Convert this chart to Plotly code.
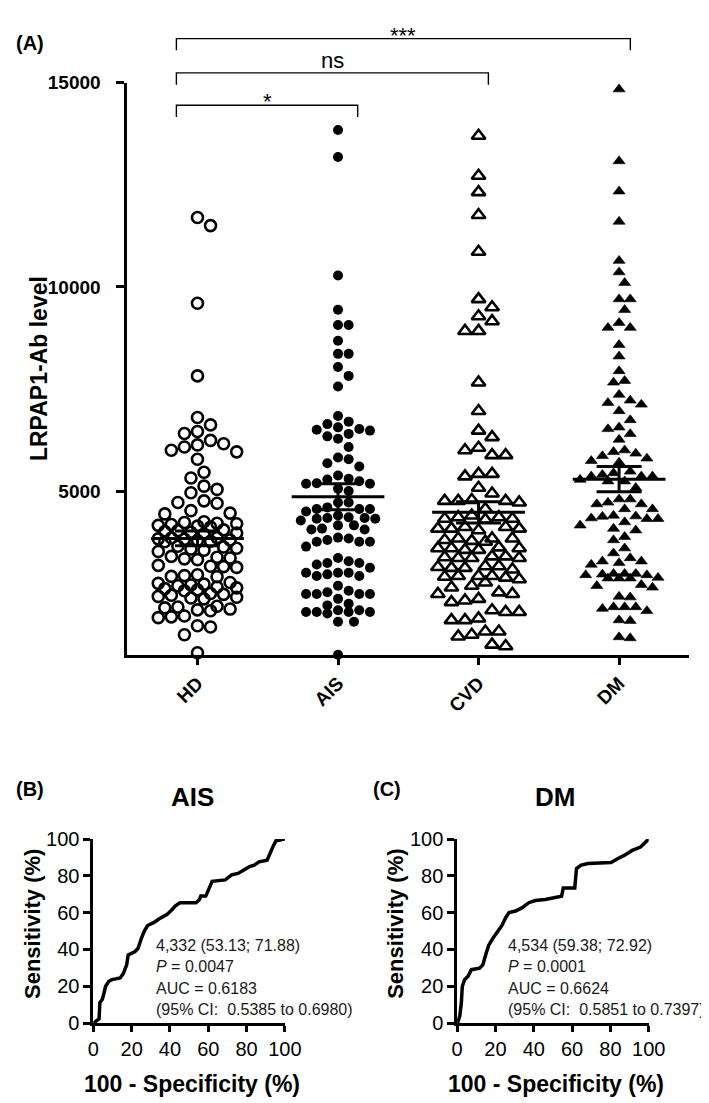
import numpy as np
import plotly.graph_objects as go

W, H = 709, 1103

# ---------------- data ----------------
categories = ["HD", "AIS", "CVD", "DM"]

hd_values = [11700, 11500, 9600, 7820, 6800, 6620, 6460, 6410, 6240, 6160, 6130, 6080, 6000, 5960,
             5780, 5460, 5320, 5120, 5040, 4960, 4760, 4720, 4700, 4520, 4460, 4440,
             4250, 4230, 4210, 4200, 4180, 4160, 4140, 4120,
             4050, 4030, 4010, 3990, 3970, 3950,
             3860, 3850, 3830, 3820, 3800, 3790, 3770, 3760,
             3650, 3630, 3600, 3580, 3550, 3520,
             3400, 3380, 3360, 3340, 3320,
             3180, 3160, 3150, 3130,
             2950, 2930, 2910, 2900,
             2760, 2740, 2720, 2700, 2680, 2650, 2630, 2610, 2580, 2560,
             2490, 2470, 2450, 2420, 2400, 2380, 2360,
             2180, 2160, 2140, 2110, 2090, 2070,
             1940, 1920, 1900, 1700, 1670, 1480, 1040]

ais_values = [13840, 13180, 10280, 9440, 9065, 9065, 8680, 8360, 8360,
              8040, 7820, 7560, 6840,
              6700, 6640, 6560, 6520, 6500, 6480, 6400,
              6340, 6280, 6080,
              5820, 5780, 5680, 5600,
              5380, 5300, 5280, 5240, 5190, 5180, 5180,
              5060, 5000,
              4720, 4720, 4600, 4560, 4560, 4560, 4500,
              4400, 4360, 4340, 4340, 4320, 4320, 4280,
              4160, 4160, 4080, 4060, 4060,
              3860, 3840, 3800, 3760, 3760, 3760,
              3640,
              3360, 3280, 3240, 3240, 3200, 3120, 3000, 3000, 3000,
              2960, 2920, 2920,
              2680, 2560, 2520, 2480, 2480, 2480, 2480,
              2360, 2240,
              2200, 2080, 2080, 2040, 2040, 2040, 2040, 2000,
              1800, 1800,
              990]

cvd_values = [13700, 12720, 12320, 11760, 10860, 9700, 9500, 9280, 9160, 8920, 8920,
              7660, 6960, 6480, 6320,
              6060, 6000, 5880, 5880,
              5420, 5420, 5360,
              5080, 4940,
              4780, 4760, 4760, 4760, 4720, 4560,
              4400, 4360, 4360, 4320, 4320, 4300,
              4120, 4120, 4080, 4080, 4080, 4040,
              3840, 3840, 3840, 3800, 3780, 3760,
              3620, 3600, 3600, 3600, 3560, 3560,
              3400, 3400, 3380, 3360, 3360, 3360,
              3160, 3160, 3140, 3120, 3120, 3080,
              2920, 2920, 2920, 2900, 2880, 2840,
              2760, 2680, 2640,
              2520, 2480, 2480, 2360, 2320, 2280,
              2080, 2040, 2040, 1880, 1840, 1840,
              1560, 1560, 1480, 1440,
              1240, 1200]

dm_values = [14840, 13080, 12340, 11600, 10640, 10360, 10100, 9700, 9700, 9440, 9120, 9000, 9000, 8580, 8300,
             7940, 7700, 7660, 7360, 7220, 7160, 7120, 6960, 6740, 6560, 6520, 6400, 6260,
             6000, 5960, 5920, 5860, 5800, 5740, 5700,
             5480, 5440, 5400, 5360, 5360, 5360, 5280, 5240, 5240,
             5080,
             4800, 4800, 4720, 4680, 4680, 4560, 4560,
             4400, 4384, 4376, 4336, 4320, 4320, 4240, 4160, 4080, 4040,
             3880, 3800, 3600,
             3480, 3360,
             3280, 3280, 3240, 3200,
             2976, 2976, 2976, 2960, 2944, 2944,
             2880, 2864, 2864, 2864,
             2704, 2680, 2640,
             2416, 2400,
             2160, 2160, 2160, 2120, 2064,
             1840, 1824,
             1424, 1400]

group_means = [3840, 4860, 4480, 5290]
group_sems = [180, 320, 260, 310]

y_tick_vals = [5000, 10000, 15000]

comparisons = [("HD", "AIS", "*"), ("HD", "CVD", "ns"), ("HD", "DM", "***")]

roc_ais_fpr = [0, 1.3, 3.0, 3.4, 4.7, 5.6, 6.4, 8.1, 9.8, 14.0, 15.7, 17.4, 18.2, 21.6, 23.3, 25.0, 26.6,
               28.3, 31.7, 34.2, 38.4, 41.0, 42.7, 45.2, 53.6, 55.3, 56.1, 58.7, 61.2, 62.0, 68.8, 72.2,
               75.5, 78.0, 81.5, 84.0, 86.5, 90.7, 92.4, 94.0, 95.4, 99.0, 100]
roc_ais_tpr = [0, 0.9, 2.3, 11.0, 13.0, 16.5, 20.0, 22.7, 23.6, 24.5, 27.0, 31.6, 37.0, 38.7, 40.5, 45.8, 50.0,
               53.0, 54.7, 56.5, 59.0, 61.5, 63.6, 65.4, 65.4, 67.0, 69.0, 69.0, 75.0, 77.0, 77.8, 80.5,
               81.3, 83.0, 85.0, 85.8, 87.6, 88.5, 92.9, 96.4, 99.1, 100, 100]

roc_dm_fpr = [0, 0.5, 1.4, 2.2, 2.7, 3.9, 5.7, 7.4, 11.7, 13.4, 15.1, 16.5, 18.5, 21.1, 23.3, 25.4, 27.1,
              30.5, 34.0, 37.4, 40.8, 46.0, 51.1, 54.5, 55.4, 61.4, 62.3, 64.8, 68.3, 80.3, 83.7, 87.2,
              91.4, 95.7, 99.1, 100]
roc_dm_tpr = [0, 0.9, 4.0, 11.0, 20.0, 23.6, 25.4, 29.0, 29.8, 31.6, 37.8, 42.3, 45.8, 49.4, 52.9, 57.4, 60.0,
              60.9, 62.7, 65.4, 66.6, 67.1, 68.0, 68.9, 73.4, 73.4, 84.0, 85.8, 86.7, 87.2, 89.3, 91.1,
              93.8, 95.6, 99.1, 100]

roc_ticks = [0, 20, 40, 60, 80, 100]

ais_stats = ["4,332 (53.13; 71.88)", "<i>P</i> = 0.0047", "AUC = 0.6183", "(95% CI:  0.5385 to 0.6980)"]
dm_stats = ["4,534 (59.38; 72.92)", "<i>P</i> = 0.0001", "AUC = 0.6624", "(95% CI:  0.5851 to 0.7397)"]

# ---------------- layout geometry (pixels) ----------------
FONT = "Arial, Liberation Sans, Helvetica, sans-serif"


def px(x):
    return x / W


def py(y):
    return 1 - y / H


A_left, A_right = 117, 698
A_top, A_bottom = 65, 649
A_ymin, A_ymax = 984, 15000
x_range = [-0.5, len(categories) - 0.5]
px_per_cat = (A_right - A_left) / (x_range[1] - x_range[0])
px_per_unit = (A_bottom - A_top) / (A_ymax - A_ymin)


def swarm(values, d, max_off):
    vals = np.asarray(values, dtype=float)
    ys = vals * px_per_unit
    step = d / 2.0
    cands = [0.0]
    k = 1
    while k * step <= max_off + 1e-9:
        cands += [k * step, -k * step]
        k += 1
    placed_x, placed_y = [], []
    offs = np.zeros(len(vals))
    for i in np.argsort(-vals, kind="stable"):
        y = ys[i]
        chosen, best_c, best_md = None, 0.0, -1.0
        for c in cands:
            if placed_x:
                md = np.min(np.hypot(np.array(placed_x) - c, np.array(placed_y) - y))
            else:
                md = 1e9
            if md >= d:
                chosen = c
                break
            if md > best_md:
                best_md, best_c = md, c
        if chosen is None:
            chosen = best_c
        offs[i] = chosen
        placed_x.append(chosen)
        placed_y.append(y)
    return offs / px_per_cat


groups = [hd_values, ais_values, cvd_values, dm_values]
marker_styles = [
    dict(symbol="circle-open", size=11, color="black", line=dict(width=2.6, color="black")),
    dict(symbol="circle", size=10, color="black", line=dict(width=0)),
    dict(symbol="triangle-up-open", size=12, color="black", line=dict(width=2.6, color="black")),
    dict(symbol="triangle-up", size=10.5, color="black", line=dict(width=0.6, color="black")),
]
swarm_d = [13.5, 11, 14, 11.5]

fig = go.Figure()

for gi, (vals, ms) in enumerate(zip(groups, marker_styles)):
    offs = swarm(vals, swarm_d[gi], 42)
    fig.add_trace(go.Scatter(
        x=gi + offs, y=vals, mode="markers", marker=ms, cliponaxis=False,
        xaxis="x", yaxis="y", hoverinfo="skip", showlegend=False))

# mean +/- SEM lines
for gi, (m, s) in enumerate(zip(group_means, group_sems)):
    xs = [gi - 0.33, gi + 0.33, None, gi - 0.16, gi + 0.16, None, gi - 0.16, gi + 0.16, None, gi, gi]
    ys = [m, m, None, m + s, m + s, None, m - s, m - s, None, m - s, m + s]
    fig.add_trace(go.Scatter(x=xs, y=ys, mode="lines", line=dict(color="black", width=3),
                             xaxis="x", yaxis="y", hoverinfo="skip", showlegend=False,
                             cliponaxis=False))

# ROC curves
fig.add_trace(go.Scatter(x=roc_ais_fpr, y=roc_ais_tpr, mode="lines",
                         line=dict(color="black", width=3.5), xaxis="x2", yaxis="y2",
                         cliponaxis=False, showlegend=False, hoverinfo="skip"))
fig.add_trace(go.Scatter(x=roc_dm_fpr, y=roc_dm_tpr, mode="lines",
                         line=dict(color="black", width=3.5), xaxis="x3", yaxis="y3",
                         cliponaxis=False, showlegend=False, hoverinfo="skip"))

axis_common = dict(showgrid=False, zeroline=False, showline=True, linecolor="black",
                   ticks="outside", tickcolor="black", mirror=False)

B_left, B_right = 82, 280
C_left, C_right = 458, 656
R_top, R_bottom = 836.7, 1024.5

fig.update_layout(
    width=W, height=H, margin=dict(l=0, r=0, t=0, b=0),
    paper_bgcolor="white", plot_bgcolor="white", showlegend=False,
    font=dict(family=FONT, color="black"),
    xaxis=dict(domain=[px(A_left), px(A_right)], range=x_range, anchor="y",
               tickmode="array", tickvals=list(range(len(categories))), ticktext=categories,
               tickangle=-45, ticklen=7, tickwidth=2.5, linewidth=2.5,
               tickfont=dict(size=19, family=FONT, weight="bold"), **axis_common),
    yaxis=dict(domain=[py(A_bottom), py(A_top)], range=[A_ymin, A_ymax], anchor="x",
               tickmode="array", tickvals=y_tick_vals, ticktext=[str(v) for v in y_tick_vals],
               ticklen=8, tickwidth=2.5, linewidth=2.5, ticklabelstandoff=12,
               tickfont=dict(size=19, family=FONT, weight="bold"), **axis_common),
    xaxis2=dict(domain=[px(B_left), px(B_right)], range=[0, 100], anchor="y2",
                tickmode="array", tickvals=roc_ticks, ticklen=6, tickwidth=2.5, linewidth=2.7,
                tickfont=dict(size=20, family=FONT), **axis_common),
    yaxis2=dict(domain=[py(R_bottom), py(R_top)], range=[0, 100], anchor="x2",
                tickmode="array", tickvals=roc_ticks, ticklen=7, tickwidth=2.5, linewidth=2.7,
                tickfont=dict(size=20, family=FONT), **axis_common),
    xaxis3=dict(domain=[px(C_left), px(C_right)], range=[0, 100], anchor="y3",
                tickmode="array", tickvals=roc_ticks, ticklen=6, tickwidth=2.5, linewidth=2.7,
                tickfont=dict(size=20, family=FONT), **axis_common),
    yaxis3=dict(domain=[py(R_bottom), py(R_top)], range=[0, 100], anchor="x3",
                tickmode="array", tickvals=roc_ticks, ticklen=7, tickwidth=2.5, linewidth=2.7,
                tickfont=dict(size=20, family=FONT), **axis_common),
)

# significance brackets (paper coords derived from category positions)
def cat_to_paper(c):
    return px(A_left + (c - x_range[0]) * px_per_cat)

bracket_geom = {"*": (-0.15, 1.14, 88), "ns": (-0.15, 2.07, 55), "***": (-0.15, 3.08, 20)}
label_center = {"*": 84, "ns": 42, "***": 17}
for a, b, lab in comparisons:
    l, r, top = bracket_geom[lab]
    x0, x1 = cat_to_paper(l), cat_to_paper(r)
    y_top, y_drop = py(top), py(top + 12)
    fig.add_shape(type="path", xref="paper", yref="paper",
                  path=f"M {x0} {y_drop} L {x0} {y_top} L {x1} {y_top} L {x1} {y_drop}",
                  line=dict(color="black", width=1.4))
    fig.add_annotation(x=(x0 + x1) / 2, y=py(label_center[lab]), xref="paper", yref="paper",
                       text=lab, showarrow=False, xanchor="center", yanchor="middle",
                       font=dict(size=22, family=FONT, color="black"))

annots = [
    dict(x=px(17), y=py(24), text="<b>(A)</b>", size=20),
    dict(x=px(26), y=py(357), text="<b>LRPAP1-Ab level</b>", size=23, angle=-90),
    dict(x=px(17), y=py(786), text="<b>(B)</b>", size=20),
    dict(x=px(386), y=py(786), text="<b>(C)</b>", size=20),
    dict(x=px(184), y=py(794), text="<b>AIS</b>", size=26),
    dict(x=px(559), y=py(794), text="<b>DM</b>", size=26),
    dict(x=px(19), y=py(923), text="<b>Sensitivity (%)</b>", size=22, angle=-90),
    dict(x=px(394), y=py(923), text="<b>Sensitivity (%)</b>", size=22, angle=-90),
    dict(x=px(184), y=py(1087), text="<b>100 - Specificity (%)</b>", size=23),
    dict(x=px(560), y=py(1087), text="<b>100 - Specificity (%)</b>", size=23),
]
for a in annots:
    fig.add_annotation(x=a["x"], y=a["y"], xref="paper", yref="paper", text=a["text"],
                       showarrow=False, textangle=a.get("angle", 0),
                       xanchor="center", yanchor="middle",
                       font=dict(size=a["size"], family=FONT, color="black"))

line_y = [945, 967, 989, 1011]
for lines, x_left in ((ais_stats, 145), (dm_stats, 508)):
    for t, yy in zip(lines, line_y):
        fig.add_annotation(x=px(x_left), y=py(yy), xref="paper", yref="paper", text=t,
                           showarrow=False, xanchor="left", yanchor="middle",
                           font=dict(size=16, family=FONT, color="#1a1a1a"))

fig.write_html("out.html")
